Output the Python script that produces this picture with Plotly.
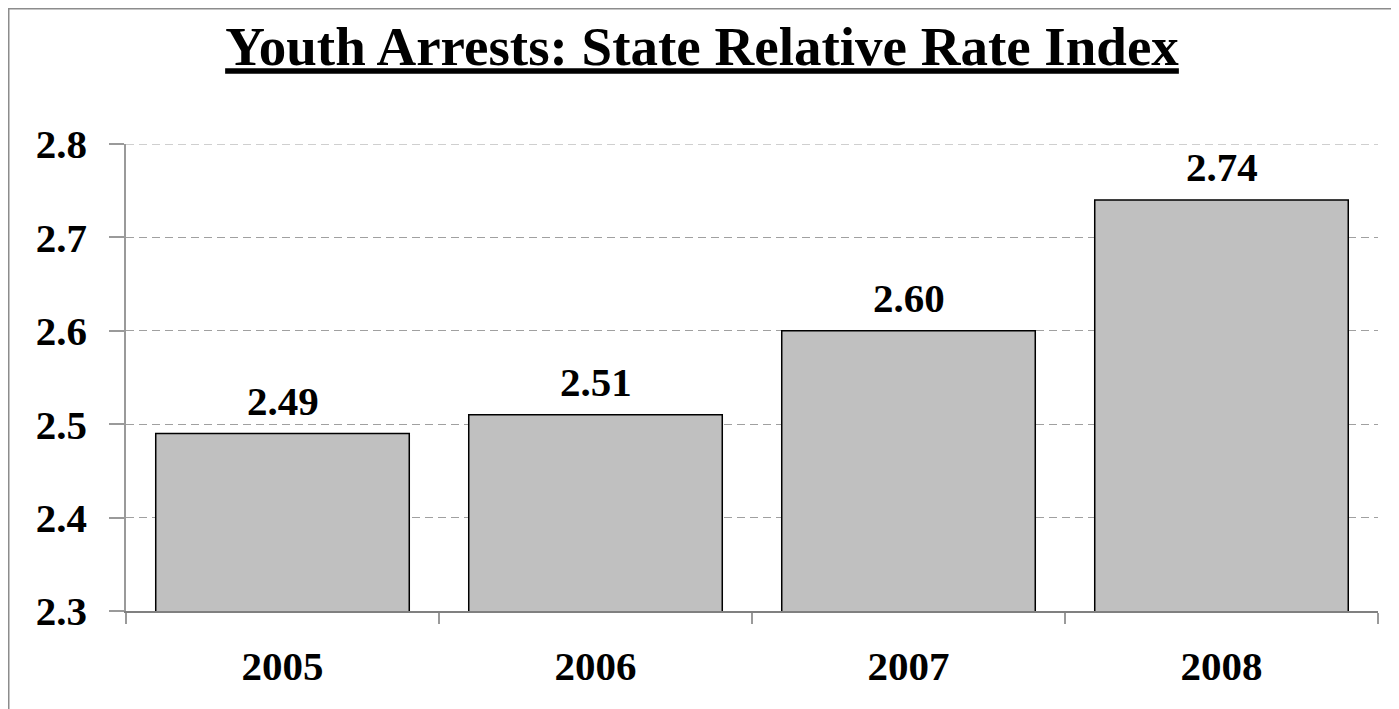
import plotly.graph_objects as go

years = ["2005", "2006", "2007", "2008"]
rri = [2.49, 2.51, 2.60, 2.74]
labels = ["2.49", "2.51", "2.60", "2.74"]
y_ticks = [2.3, 2.4, 2.5, 2.6, 2.7, 2.8]

# page body has an 8px margin, so the figure is 16px smaller than the window
W, H = 1391, 701
L, R, T, B = 118, 21, 136, 98
pw, ph = W - L - R, H - T - B

serif = "Liberation Serif, Times New Roman, serif"

fig = go.Figure()
fig.add_trace(go.Bar(
    x=years,
    y=rri,
    marker=dict(color="#C0C0C0", line=dict(color="black", width=1.5)),
    hoverinfo="x+y",
))

# value labels above bars (category index positions)
for i, (v, lab) in enumerate(zip(rri, labels)):
    fig.add_annotation(
        x=i, y=v, text="<b>" + lab + "</b>", showarrow=False,
        yanchor="bottom", yshift=8,
        font=dict(family=serif, size=41, color="black"),
    )

# dashed gridline at the top of the range (plotly hides the edge one)
fig.add_hline(y=y_ticks[-1], line=dict(color="#a0a0a0", width=1, dash="8px,5px"))

# outer chart border
fig.add_shape(
    type="rect", xref="paper", yref="paper",
    x0=(0.75 - L) / pw, x1=(1389 - L) / pw,
    y0=-(B + 10) / ph, y1=(ph + T - 0.75) / ph,
    line=dict(color="#8c8c8c", width=1.5), fillcolor="rgba(0,0,0,0)",
    layer="below",
)

fig.update_layout(
    width=W, height=H,
    margin=dict(l=L, r=R, t=T, b=B, autoexpand=False),
    paper_bgcolor="white", plot_bgcolor="white",
    bargap=0.19,
    showlegend=False,
    title=dict(
        text="<b>Youth Arrests: State Relative Rate Index</b>",
        x=(702 - 8) / W, xanchor="center", y=1 - 38 / H, yanchor="middle",
        yref="container", automargin=False,
        font=dict(family=serif, size=55, color="black", lineposition="under"),
    ),
)

fig.update_yaxes(
    range=[2.3, 2.8],
    automargin=False,
    tickvals=y_ticks,
    ticktext=["<b>%.1f</b>" % t for t in y_ticks],
    tickfont=dict(family=serif, size=41, color="black"),
    showline=True, linecolor="#9a9a9a", linewidth=1.5,
    ticks="outside", ticklen=15, tickcolor="#9a9a9a", tickwidth=1.5,
    ticklabelstandoff=14,
    showgrid=True, gridcolor="#a0a0a0", gridwidth=1, griddash="8px,5px",
    zeroline=False,
)

fig.update_xaxes(
    type="category",
    range=[-0.5, len(years) - 0.5],
    automargin=False,
    tickangle=0,
    tickfont=dict(family=serif, size=41, color="black"),
    tickprefix="<b>", ticksuffix="</b>",
    showline=True, linecolor="#808080", linewidth=1.5,
    ticks="outside", tickson="boundaries", ticklen=11,
    tickcolor="#9a9a9a", tickwidth=1.5,
    ticklabelstandoff=18,
    showgrid=False,
)

fig.write_html("out.html")
